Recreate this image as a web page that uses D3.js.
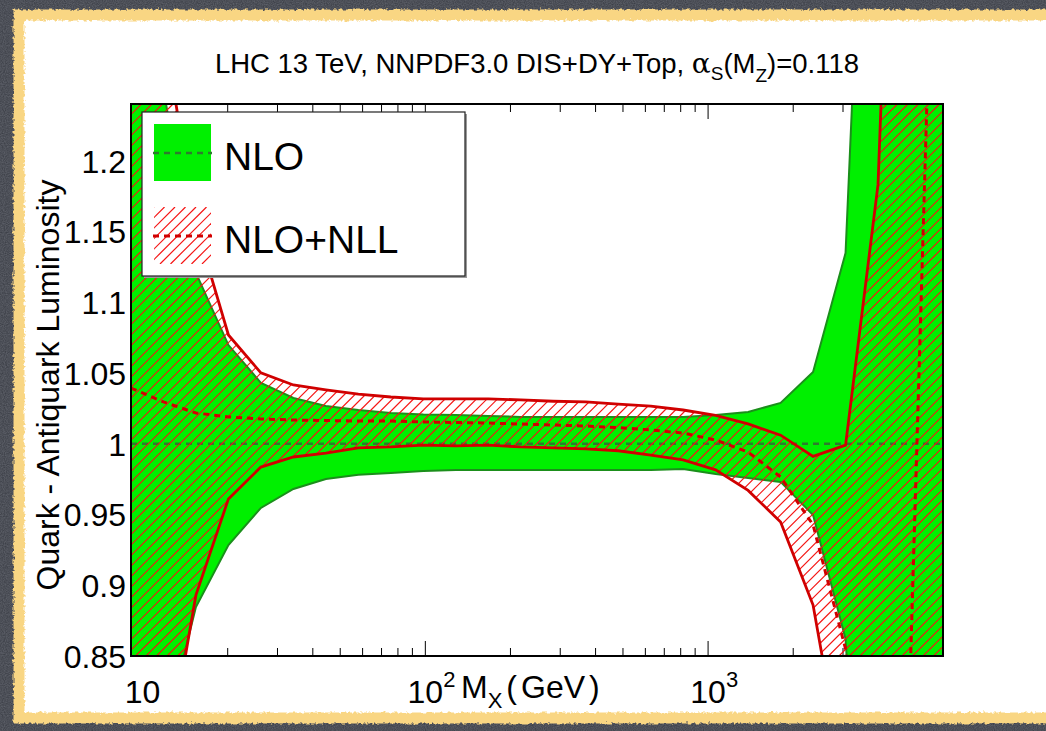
<!DOCTYPE html>
<html>
<head>
<meta charset="utf-8">
<script src="https://cdn.jsdelivr.net/npm/d3@7"></script>
<style>
	html, body { margin: 0; padding: 0; background: #3d4048; }
	#outer { width: 1046px; height: 731px; }
</style>
</head>
<body>
<div id="outer"></div>
<script>
////////// Chart Data //////////
// invariant mass grid (GeV), log spaced as in the plot
const massesGeV = [9.1, 11.86, 15.44, 20.12, 26.21, 34.15, 44.49, 57.96, 75.5, 98.4, 128.2, 167.0, 217.5,
	283.4, 369.2, 481, 627, 816, 1063, 1385, 1805, 2351, 3063, 3990, 5199, 6773];

// NLO band (green), ratio to NLO central
const nloUpper = [1.40, 1.25, 1.1206, 1.0697, 1.043, 1.0323, 1.0267, 1.0238, 1.0217, 1.0206, 1.0203, 1.0196, 1.0189,
	1.0189, 1.0189, 1.0189, 1.0189, 1.0189, 1.0203, 1.0224, 1.0288, 1.0507, 1.1347, 1.66, 1.80, 2.00];
const nloLower = [0.70, 0.792, 0.8846, 0.9284, 0.9546, 0.968, 0.975, 0.978, 0.9793, 0.9807, 0.9814, 0.9814, 0.9814,
	0.9814, 0.9814, 0.9814, 0.9814, 0.9821, 0.9786, 0.9758, 0.973, 0.9496, 0.862, 0.50, 0.40, 0.30];
const nloCentral = [1, 1, 1, 1, 1, 1, 1, 1, 1, 1, 1, 1, 1, 1, 1, 1, 1, 1, 1, 1, 1, 1, 1, 1, 1, 1];

// NLO+NLL band (red hatch)
const nllUpper = [1.45, 1.293, 1.1546, 1.0768, 1.050, 1.0415, 1.038, 1.035, 1.033, 1.0316, 1.0316, 1.0316, 1.031,
	1.030, 1.0295, 1.028, 1.0266, 1.0238, 1.020, 1.014, 1.006, 0.991, 0.999, 1.183, 1.80, 2.00];
const nllLower = [0.60, 0.761, 0.893, 0.961, 0.9835, 0.9906, 0.9934, 0.997, 0.9977, 0.999, 0.9984, 0.999, 0.9977,
	0.997, 0.9963, 0.995, 0.992, 0.9885, 0.9815, 0.967, 0.9447, 0.886, 0.757, 0.50, 0.30, 0.10];
const nllCentral = [1.0393, 1.0295, 1.0217, 1.0189, 1.0175, 1.0167, 1.0164, 1.016, 1.016, 1.0153, 1.015, 1.0146, 1.0139,
	1.0132, 1.0125, 1.0114, 1.0097, 1.0075, 1.0026, 0.9941, 0.9765, 0.9426, 0.855, 0.60, 0.845, 1.63];

// axes
const yDomain = [0.85, 1.24];
const yTickValues = [0.85, 0.9, 0.95, 1, 1.05, 1.1, 1.15, 1.2];
const yTickLabels = ['0.85', '0.9', '0.95', '1', '1.05', '1.1', '1.15', '1.2'];
const xMajorTicks = [10, 100, 1000];
const xTickBases = ['10', '10', '10'];
const xTickExponents = ['', '2', '3'];
const legendLabels = ['NLO', 'NLO+NLL'];


function drawLumiChart () {
	const widget = {};

	////////////////////////////////////////////////////////////////
		// Definitions
	////////////////////////////////////////////////////////////////
	const setupDefinitions = () => {
		const data = {};
		data.width = 1046;
		data.height = 731;
		data.plot = {left: 131, right: 943, top: 104, bottom: 656};

		// colors
		data.bgColor = '#3d4048';
		data.borderColor = '#f9d683';
		data.greenFill = '#00f000';
		data.greenEdge = '#1b8f1b';
		data.greenDash = '#2f7a2f';
		data.redEdge = '#d00000';
		data.redHatch = '#f51414';
		data.hatchStep = 10.5;

		// fonts
		data.font = '"Liberation Sans", Arial, Helvetica, sans-serif';
		data.tickFontSize = 32;
		data.titleFontSize = 27.5;
		data.legendFontSize = 39;

		data.x = d3.scaleLog()
			.domain([massesGeV[0], massesGeV[massesGeV.length - 1]])
			.range([data.plot.left, data.plot.right]);
		data.y = d3.scaleLinear()
			.domain(yDomain)
			.range([data.plot.bottom, data.plot.top]);
		return data;
	};

	// draws "/" hatch lines over a box, to be clipped by the caller
	const drawHatch = (group, box, data) => {
		const span = box.w + box.h;
		for (let s = -box.h; s <= span; s += data.hatchStep) {
			group.append('line')
				.attr('x1', box.x + s).attr('y1', box.y + box.h)
				.attr('x2', box.x + s + box.h).attr('y2', box.y)
				.style('stroke', data.redHatch)
				.style('stroke-width', 1.2);
		}
	};


	////////////////////////////////////////////////////////////////
		// Render
	////////////////////////////////////////////////////////////////
	const renderWidget = data => {
		const svg = widget.svg
			.attr('width', data.width)
			.attr('height', data.height);
		svg.selectAll('*').remove();

		const {x, y, plot} = data;
		const defs = svg.append('defs');

		// rough edge for the paper panel
		const rough = defs.append('filter').attr('id', 'rough')
			.attr('x', '-2%').attr('y', '-2%').attr('width', '104%').attr('height', '104%');
		rough.append('feTurbulence').attr('type', 'fractalNoise').attr('baseFrequency', 0.35)
			.attr('numOctaves', 2).attr('seed', 3).attr('result', 'noise');
		rough.append('feDisplacementMap').attr('in', 'SourceGraphic').attr('in2', 'noise')
			.attr('scale', 5).attr('xChannelSelector', 'R').attr('yChannelSelector', 'G');

		// chalkboard grain
		const grain = defs.append('filter').attr('id', 'grain');
		grain.append('feTurbulence').attr('type', 'fractalNoise').attr('baseFrequency', 0.9)
			.attr('numOctaves', 2).attr('seed', 7);
		grain.append('feColorMatrix').attr('type', 'matrix')
			.attr('values', '0 0 0 0 0.5  0 0 0 0 0.52  0 0 0 0 0.58  0 0 0 0.35 -0.05');

		defs.append('clipPath').attr('id', 'plotClip')
			.append('rect')
			.attr('x', plot.left).attr('y', plot.top)
			.attr('width', plot.right - plot.left).attr('height', plot.bottom - plot.top);

		const bandArea = (lo, up) => d3.area()
			.x((d, i) => x(massesGeV[i]))
			.y0((d, i) => y(lo[i]))
			.y1((d, i) => y(up[i]));
		const seriesLine = d3.line()
			.x((d, i) => x(massesGeV[i]))
			.y(d => y(d));

		defs.append('clipPath').attr('id', 'nllClip')
			.append('path').datum(massesGeV)
			.attr('d', bandArea(nllLower, nllUpper));

		// ********************************************* BACKGROUND ******************************************************* //
		svg.append('rect').attr('width', data.width).attr('height', data.height).attr('fill', data.bgColor);
		svg.append('rect').attr('width', data.width).attr('height', data.height).attr('filter', 'url(#grain)');

		svg.append('rect')
			.attr('x', 19).attr('y', 15)
			.attr('width', 1080).attr('height', 703)
			.attr('fill', 'white')
			.attr('stroke', data.borderColor)
			.attr('stroke-width', 11)
			.attr('filter', 'url(#rough)');

		// ********************************************* TICKS (under data) ******************************************************* //
		const tickGroup = svg.append('g').attr('stroke', '#000').attr('stroke-width', 1);
		const minorTicks = x.ticks().filter(t => !xMajorTicks.includes(t));
		xMajorTicks.forEach(t => {
			tickGroup.append('line').attr('x1', x(t)).attr('x2', x(t)).attr('y1', plot.bottom).attr('y2', plot.bottom - 15);
			tickGroup.append('line').attr('x1', x(t)).attr('x2', x(t)).attr('y1', plot.top).attr('y2', plot.top + 15);
		});
		minorTicks.forEach(t => {
			tickGroup.append('line').attr('x1', x(t)).attr('x2', x(t)).attr('y1', plot.bottom).attr('y2', plot.bottom - 8);
			tickGroup.append('line').attr('x1', x(t)).attr('x2', x(t)).attr('y1', plot.top).attr('y2', plot.top + 8);
		});
		yTickValues.forEach(t => {
			tickGroup.append('line').attr('x1', plot.left).attr('x2', plot.left + 8).attr('y1', y(t)).attr('y2', y(t));
			tickGroup.append('line').attr('x1', plot.right).attr('x2', plot.right - 8).attr('y1', y(t)).attr('y2', y(t));
		});

		// ********************************************* BANDS ******************************************************* //
		const dataGroup = svg.append('g').attr('clip-path', 'url(#plotClip)');

		// NLO
		dataGroup.append('path').datum(massesGeV)
			.attr('d', bandArea(nloLower, nloUpper))
			.attr('fill', data.greenFill);
		[nloUpper, nloLower].forEach(s => {
			dataGroup.append('path').datum(s)
				.attr('d', seriesLine)
				.attr('fill', 'none')
				.attr('stroke', data.greenEdge)
				.attr('stroke-width', 2);
		});
		dataGroup.append('path').datum(nloCentral)
			.attr('d', seriesLine)
			.attr('fill', 'none')
			.attr('stroke', data.greenDash)
			.attr('stroke-width', 2.5)
			.attr('stroke-dasharray', '6,5');

		// NLO+NLL
		const hatchGroup = dataGroup.append('g').attr('clip-path', 'url(#nllClip)');
		drawHatch(hatchGroup, {x: plot.left, y: plot.top, w: plot.right - plot.left, h: plot.bottom - plot.top}, data);
		[nllUpper, nllLower].forEach(s => {
			dataGroup.append('path').datum(s)
				.attr('d', seriesLine)
				.attr('fill', 'none')
				.attr('stroke', data.redEdge)
				.attr('stroke-width', 2.8);
		});
		dataGroup.append('path').datum(nllCentral)
			.attr('d', seriesLine)
			.attr('fill', 'none')
			.attr('stroke', data.redEdge)
			.attr('stroke-width', 3)
			.attr('stroke-dasharray', '6,5');

		// ********************************************* AXIS BOX ******************************************************* //
		svg.append('rect')
			.attr('x', plot.left).attr('y', plot.top)
			.attr('width', plot.right - plot.left).attr('height', plot.bottom - plot.top)
			.attr('fill', 'none')
			.attr('stroke', '#000')
			.attr('stroke-width', 2);

		// ********************************************* TICK LABELS ******************************************************* //
		const labelGroup = svg.append('g')
			.attr('font-family', data.font)
			.attr('fill', '#000');

		yTickValues.forEach((t, i) => {
			labelGroup.append('text')
				.attr('x', plot.left - 5)
				.attr('y', y(t) + 12)
				.attr('text-anchor', 'end')
				.attr('font-size', data.tickFontSize)
				.text(yTickLabels[i]);
		});

		xMajorTicks.forEach((t, i) => {
			labelGroup.append('text')
				.attr('x', x(t))
				.attr('y', 703)
				.attr('text-anchor', 'middle')
				.attr('font-size', data.tickFontSize)
				.text(xTickBases[i]);
			if (xTickExponents[i]) {
				labelGroup.append('text')
					.attr('x', x(t) + 18)
					.attr('y', 687)
					.attr('font-size', 22)
					.text(xTickExponents[i]);
			}
		});

		// ********************************************* AXIS TITLES ******************************************************* //
		const xLabel = labelGroup.append('text')
			.attr('x', 461)
			.attr('y', 698)
			.attr('font-size', data.tickFontSize);
		xLabel.append('tspan').text('M');
		xLabel.append('tspan').attr('font-size', 22).attr('dy', 10).text('X');
		xLabel.append('tspan').attr('dy', -10).attr('dx', 4).text('(');
		xLabel.append('tspan').attr('dx', 4).text('GeV');
		xLabel.append('tspan').attr('dx', 4).text(')');

		labelGroup.append('text')
			.attr('transform', `translate(59, ${(plot.top + plot.bottom) / 2 + 5}) rotate(-90)`)
			.attr('text-anchor', 'middle')
			.attr('font-size', data.tickFontSize)
			.text('Quark - Antiquark Luminosity');

		const title = labelGroup.append('text')
			.attr('x', (plot.left + plot.right) / 2)
			.attr('y', 73)
			.attr('text-anchor', 'middle')
			.attr('font-size', data.titleFontSize);
		title.append('tspan').text('LHC 13 TeV, NNPDF3.0 DIS+DY+Top, ');
		title.append('tspan').attr('font-family', '"DejaVu Serif", serif').attr('font-size', 28).text('α');
		title.append('tspan').attr('font-size', 19).attr('dy', 7).text('S');
		title.append('tspan').attr('dy', -7).text('(M');
		title.append('tspan').attr('font-size', 19).attr('dy', 9).text('Z');
		title.append('tspan').attr('dy', -9).text(')=0.118');

		// ********************************************* LEGEND ******************************************************* //
		const legend = svg.append('g').attr('class', 'legend');
		legend.append('rect')
			.attr('x', 144).attr('y', 114)
			.attr('width', 323).attr('height', 164)
			.attr('fill', '#9a9a9a');
		legend.append('rect')
			.attr('x', 142).attr('y', 112)
			.attr('width', 323).attr('height', 164)
			.attr('fill', 'white')
			.attr('stroke', '#222')
			.attr('stroke-width', 1.2);

		legend.append('rect')
			.attr('x', 154).attr('y', 124).attr('width', 57).attr('height', 57)
			.attr('fill', data.greenFill);
		legend.append('line')
			.attr('x1', 153).attr('x2', 212).attr('y1', 153).attr('y2', 153)
			.attr('stroke', data.greenDash).attr('stroke-width', 2.5).attr('stroke-dasharray', '6,5');

		const swatchBox = {x: 154, y: 207, w: 57, h: 57};
		defs.append('clipPath').attr('id', 'swatchClip')
			.append('rect')
			.attr('x', swatchBox.x).attr('y', swatchBox.y)
			.attr('width', swatchBox.w).attr('height', swatchBox.h);
		drawHatch(legend.append('g').attr('clip-path', 'url(#swatchClip)'), swatchBox, data);
		legend.append('line')
			.attr('x1', 153).attr('x2', 212).attr('y1', 236).attr('y2', 236)
			.attr('stroke', data.redEdge).attr('stroke-width', 3).attr('stroke-dasharray', '6,5');

		legendLabels.forEach((lbl, i) => {
			legend.append('text')
				.attr('x', 224)
				.attr('y', 170 + i * 83)
				.attr('font-family', data.font)
				.attr('font-size', data.legendFontSize)
				.text(lbl);
		});
	};


	////////////////////////////////////////////////////////////////
		// Initialize
	////////////////////////////////////////////////////////////////
	widget.outerDiv = d3.select('#outer').style('overflow', 'hidden');
	widget.svg = widget.outerDiv.append('svg').style('display', 'block');
	renderWidget(setupDefinitions());
}

drawLumiChart();
</script>
</body>
</html>
